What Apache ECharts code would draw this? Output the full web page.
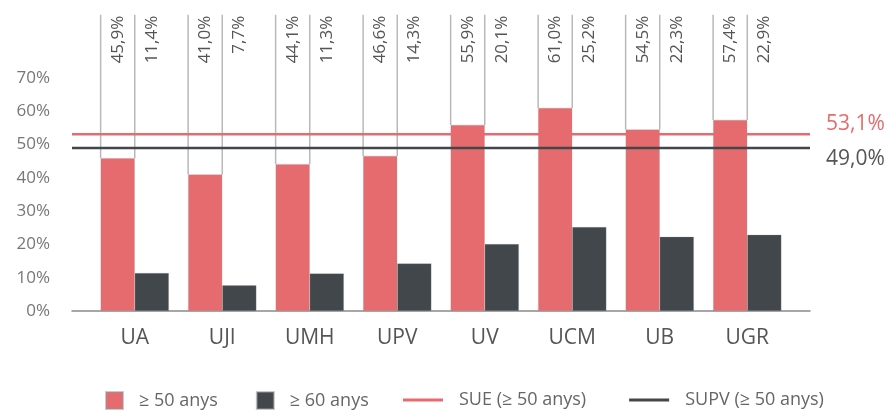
<!DOCTYPE html>
<html>
<head>
<meta charset="utf-8">
<script src="https://cdn.jsdelivr.net/npm/echarts@6/dist/echarts.min.js"></script>
<style>
  html, body { margin: 0; padding: 0; background: #fff; }
  #chart { width: 895px; height: 411px; }
</style>
</head>
<body>
<div id="chart"></div>
<script>
// Data
var categories = ['UA', 'UJI', 'UMH', 'UPV', 'UV', 'UCM', 'UB', 'UGR'];
var over50 = [45.9, 41.0, 44.1, 46.6, 55.9, 61.0, 54.5, 57.4];
var over60 = [11.4, 7.7, 11.3, 14.3, 20.1, 25.2, 22.3, 22.9];
var sueValue = 53.1;
var supvValue = 49.0;
var seriesNames = ['≥ 50 anys', '≥ 60 anys', 'SUE (≥ 50 anys)', 'SUPV (≥ 50 anys)'];

var red = '#e66b6e';
var dark = '#42474b';
var font = 'Open Sans';
var lineIcon = 'path://M0,0H40V3H0Z';

function pct(v) {
  return v.toFixed(1).replace('.', ',') + '%';
}

var chartDom = document.getElementById('chart');
var myChart = echarts.init(chartDom);
var option;

option = {
  animation: false,
  textStyle: { fontFamily: font },
  grid: [
    { left: 91, right: 104, top: 78, bottom: 100 },
    { left: 72, right: 85, top: 78, bottom: 100 }
  ],
  xAxis: [
    {
      type: 'category',
      gridIndex: 0,
      data: categories,
      axisLine: { show: false },
      axisTick: { show: false },
      axisLabel: { color: '#555', fontSize: 21, margin: 17, fontFamily: font }
    },
    {
      type: 'value',
      gridIndex: 1,
      min: 0,
      max: 1,
      axisLine: { show: true, onZero: false, lineStyle: { color: '#8a8a8a', width: 1.5 } },
      axisTick: { show: false },
      axisLabel: { show: false },
      splitLine: { show: false }
    }
  ],
  yAxis: [
    {
      type: 'value',
      gridIndex: 0,
      min: 0,
      max: 70,
      interval: 10,
      axisLine: { show: false },
      axisTick: { show: false },
      splitLine: { show: false },
      axisLabel: { color: '#777', fontSize: 17, margin: 41, fontFamily: font, formatter: '{value}%' }
    },
    {
      type: 'value',
      gridIndex: 1,
      min: 0,
      max: 70,
      show: false
    }
  ],
  legend: [
    {
      data: [seriesNames[0], seriesNames[1]],
      left: 100,
      top: 386,
      icon: 'rect',
      itemWidth: 17,
      itemHeight: 17,
      itemGap: 38,
      textStyle: { color: '#666', fontSize: 18, fontFamily: font, padding: [0, 0, 0, 11] }
    },
    {
      data: [
        { name: seriesNames[2], icon: lineIcon },
        { name: seriesNames[3], icon: lineIcon }
      ],
      left: 398,
      top: 386,
      itemWidth: 40,
      itemHeight: 3,
      itemGap: 43,
      textStyle: { color: '#666', fontSize: 18, fontFamily: font, padding: [0, 0, 0, 11] }
    }
  ],
  series: [
    {
      name: seriesNames[0],
      type: 'bar',
      xAxisIndex: 0,
      yAxisIndex: 0,
      data: over50,
      barGap: 0,
      barCategoryGap: '22%',
      itemStyle: { color: red, borderColor: 'rgba(150,150,150,0.5)', borderWidth: 0.5 }
    },
    {
      name: seriesNames[1],
      type: 'bar',
      xAxisIndex: 0,
      yAxisIndex: 0,
      data: over60,
      barGap: 0,
      barCategoryGap: '22%',
      itemStyle: { color: dark, borderColor: 'rgba(150,150,150,0.5)', borderWidth: 0.5 }
    },
    {
      // leader lines and value labels at the top
      type: 'custom',
      xAxisIndex: 0,
      yAxisIndex: 0,
      clip: false,
      silent: true,
      z: 1,
      data: categories.map(function (c, i) { return [i, over50[i], over60[i]]; }),
      encode: { x: 0, y: 1 },
      renderItem: function (params, api) {
        var i = api.value(0);
        var c = api.coord([i, 0]);
        var bw = api.size([1, 0])[0];
        var barW = bw * (1 - 0.22) / 2;
        var top = api.coord([i, 89])[1];
        var redTop = api.coord([i, api.value(1)])[1];
        var lineStyle = { stroke: '#b9b9b9', lineWidth: 1.5 };
        return {
          type: 'group',
          children: [
            { type: 'line', shape: { x1: c[0] - barW, y1: top, x2: c[0] - barW, y2: redTop }, style: lineStyle },
            { type: 'line', shape: { x1: c[0], y1: top, x2: c[0], y2: redTop }, style: lineStyle },
            {
              type: 'text', x: c[0] - barW / 2, y: top + 1, rotation: Math.PI / 2,
              style: { text: pct(api.value(1)), align: 'right', verticalAlign: 'middle', fill: '#555', font: '17px "Open Sans"' }
            },
            {
              type: 'text', x: c[0] + barW / 2, y: top + 1, rotation: Math.PI / 2,
              style: { text: pct(api.value(2)), align: 'right', verticalAlign: 'middle', fill: '#555', font: '17px "Open Sans"' }
            }
          ]
        };
      }
    },
    {
      name: seriesNames[2],
      type: 'line',
      xAxisIndex: 1,
      yAxisIndex: 1,
      symbol: 'none',
      silent: true,
      z: 3,
      data: [[0, sueValue], [1, sueValue]],
      itemStyle: { color: red },
      lineStyle: { color: red, width: 2.5 },
      endLabel: {
        show: true,
        formatter: function () { return pct(sueValue); },
        color: red,
        fontSize: 21,
        fontFamily: font,
        distance: 16,
        offset: [0, -10]
      }
    },
    {
      name: seriesNames[3],
      type: 'line',
      xAxisIndex: 1,
      yAxisIndex: 1,
      symbol: 'none',
      silent: true,
      z: 3,
      data: [[0, supvValue], [1, supvValue]],
      itemStyle: { color: dark },
      lineStyle: { color: dark, width: 2.5 },
      endLabel: {
        show: true,
        formatter: function () { return pct(supvValue); },
        color: '#555',
        fontSize: 21,
        fontFamily: font,
        distance: 16,
        offset: [0, 11]
      }
    }
  ]
};

option && myChart.setOption(option);
</script>
</body>
</html>
